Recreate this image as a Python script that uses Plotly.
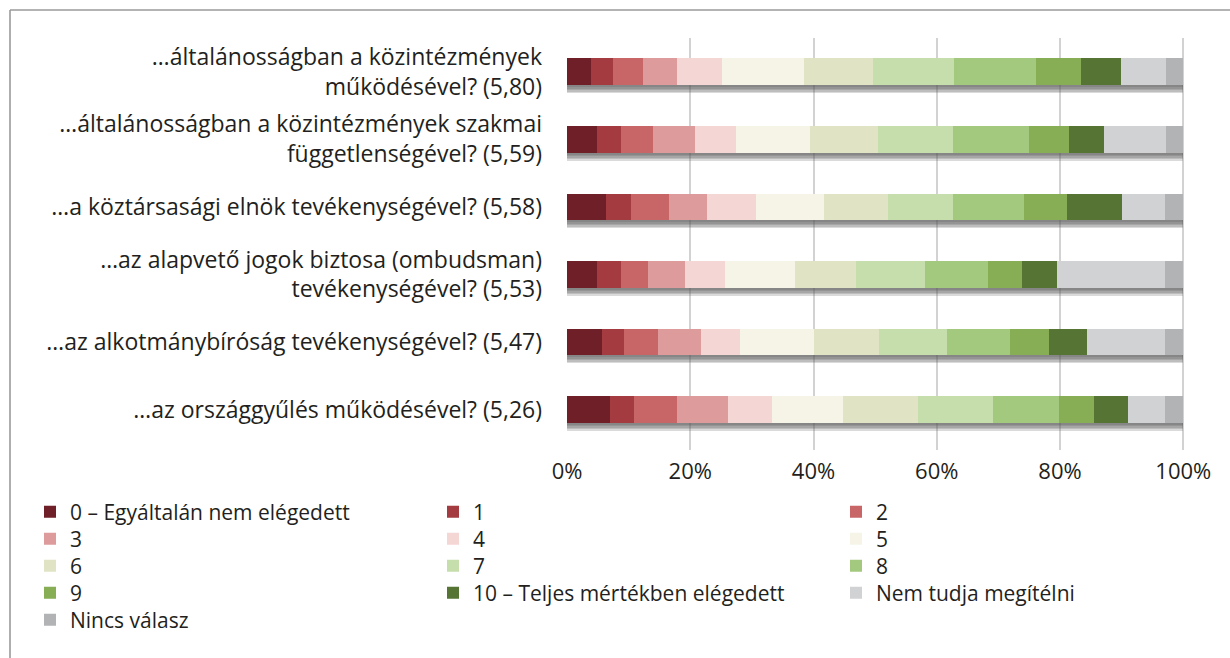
import plotly.graph_objects as go

# Survey questions (top to bottom), with mean score in brackets
questions = [
    "…általánosságban a közintézmények<br>működésével? (5,80)",
    "…általánosságban a közintézmények szakmai<br>függetlenségével? (5,59)",
    "…a köztársasági elnök tevékenységével? (5,58)",
    "…az alapvető jogok biztosa (ombudsman)<br>tevékenységével? (5,53)",
    "…az alkotmánybíróság tevékenységével? (5,47)",
    "…az országgyűlés működésével? (5,26)",
]

# Share of answers (%) per response option, one value per question
s0 = [3.9, 4.9, 6.3, 4.8, 5.7, 7.0]
s1 = [3.5, 3.9, 4.1, 3.9, 3.5, 3.9]
s2 = [5.0, 5.1, 6.1, 4.4, 5.6, 6.9]
s3 = [5.4, 6.8, 6.2, 6.1, 7.0, 8.4]
s4 = [7.3, 6.7, 8.0, 6.4, 6.2, 7.1]
s5 = [13.4, 12.1, 11.0, 11.4, 12.0, 11.5]
s6 = [11.2, 11.0, 10.4, 9.9, 10.7, 12.1]
s7 = [13.1, 12.1, 10.5, 11.2, 10.9, 12.2]
s8 = [13.3, 12.4, 11.5, 10.2, 10.3, 10.8]
s9 = [7.3, 6.5, 7.1, 5.6, 6.3, 5.6]
s10 = [6.5, 5.7, 8.9, 5.6, 6.1, 5.6]
s_nt = [7.3, 10.0, 6.9, 17.6, 12.7, 6.0]
s_nv = [2.8, 2.8, 3.0, 2.9, 3.0, 2.9]

series_names = [
    "0 – Egyáltalán nem elégedett", "1", "2", "3", "4", "5", "6", "7", "8", "9",
    "10 – Teljes mértékben elégedett", "Nem tudja megítélni", "Nincs válasz",
]
series_values = [s0, s1, s2, s3, s4, s5, s6, s7, s8, s9, s10, s_nt, s_nv]
series_colors = [
    "#6e1f27", "#a33b41", "#c86567", "#dd9b9c", "#f4d6d5", "#f5f4e7",
    "#e1e4c4", "#c5deac", "#a3c97e", "#87ad55", "#567535", "#d1d2d3", "#b1b3b5",
]

x_ticks = [0, 20, 40, 60, 80, 100]
x_tick_text = ["0%", "20%", "40%", "60%", "80%", "100%"]

# ---- layout geometry (pixels) ----
W, H = 1230, 658
PLOT_L = 567
PX_100 = 1183.3         # pixel position of 100%
PLOT_T, PLOT_B = 38, 450
ROW_PX = 67.5           # pixels per category row
BAR_HALF_PX = 13.3      # half bar thickness
Y_RANGE = [5.6, -0.5]   # reversed so first question is on top
X_MAX = 100 * (W - PLOT_L) / (PX_100 - PLOT_L)  # plot area runs to the right edge

bar_width = 2 * BAR_HALF_PX / ROW_PX
pos = list(range(len(questions)))
FONT = "'Open Sans', sans-serif"
TEXT = "#231f20"
LABEL_SIZE = 23
LEGEND_SIZE = 21

fig = go.Figure()

# soft drop shadow under every bar: several translucent layers
totals = [sum(v[i] for v in series_values) for i in pos]
for d in (2.0, 3.5, 5.0, 6.5, 8.0):
    fig.add_trace(go.Bar(
        y=[p + (d / 2) / ROW_PX for p in pos],
        x=totals,
        orientation="h",
        width=(2 * BAR_HALF_PX + d) / ROW_PX,
        marker=dict(color="rgba(85,85,85,0.22)", line=dict(width=0)),
        showlegend=False,
        hoverinfo="skip",
    ))

# legend laid out as rows of three entries
n_rows = (len(series_names) + 2) // 3
legend_ids = ["legend" if r == 0 else f"legend{r + 1}" for r in range(n_rows)]
for k, (name, vals, col) in enumerate(zip(series_names, series_values, series_colors)):
    fig.add_trace(go.Bar(
        y=pos,
        x=vals,
        name=name,
        orientation="h",
        width=bar_width,
        marker=dict(color=col, line=dict(width=0)),
        legend=legend_ids[k // 3],
    ))

plot_w = W - PLOT_L
plot_h = PLOT_B - PLOT_T


def px_to_paper_x(px):
    return (px - PLOT_L) / plot_w


def px_to_paper_y(py):
    return (PLOT_B - py) / plot_h


legend_common = dict(
    orientation="h",
    xanchor="left",
    yanchor="middle",
    entrywidth=358,
    entrywidthmode="pixels",
    font=dict(family=FONT, size=LEGEND_SIZE, color=TEXT),
    bgcolor="rgba(0,0,0,0)",
    itemclick=False,
    traceorder="normal",
)
LEGEND_X = 30
LEGEND_ROW0 = 512
LEGEND_ROW_STEP = 27
legends = {
    lid: dict(x=px_to_paper_x(LEGEND_X),
              y=px_to_paper_y(LEGEND_ROW0 + r * LEGEND_ROW_STEP),
              **legend_common)
    for r, lid in enumerate(legend_ids)
}

fig.update_layout(
    width=W,
    height=H,
    barmode="stack",
    bargap=0,
    paper_bgcolor="white",
    plot_bgcolor="white",
    margin=dict(l=PLOT_L, r=0, t=PLOT_T, b=H - PLOT_B, autoexpand=False),
    font=dict(family=FONT, size=LABEL_SIZE, color=TEXT),
    xaxis=dict(
        range=[0, X_MAX],
        tickvals=x_ticks,
        ticktext=x_tick_text,
        showgrid=True,
        gridcolor="#d2d2d2",
        gridwidth=1.6,
        zeroline=False,
        showline=False,
        ticks="",
        ticklabelstandoff=6,
        tickfont=dict(family=FONT, size=22, color=TEXT),
        fixedrange=True,
    ),
    yaxis=dict(
        range=Y_RANGE,
        tickvals=pos,
        ticktext=questions,
        showgrid=False,
        zeroline=False,
        showline=False,
        ticks="",
        ticklabelstandoff=24,
        tickfont=dict(family=FONT, size=LABEL_SIZE, color=TEXT),
        fixedrange=True,
    ),
    shapes=[
        # outer frame (left and top edges visible)
        dict(type="line", xref="paper", yref="paper",
             x0=px_to_paper_x(10), x1=px_to_paper_x(10),
             y0=px_to_paper_y(H + 20), y1=px_to_paper_y(10),
             line=dict(color="#9a9a9a", width=1.6), layer="above"),
        dict(type="line", xref="paper", yref="paper",
             x0=px_to_paper_x(10), x1=px_to_paper_x(W + 20),
             y0=px_to_paper_y(10), y1=px_to_paper_y(10),
             line=dict(color="#9a9a9a", width=1.6), layer="above"),
    ],
    **legends,
)

fig.write_html("out.html")
